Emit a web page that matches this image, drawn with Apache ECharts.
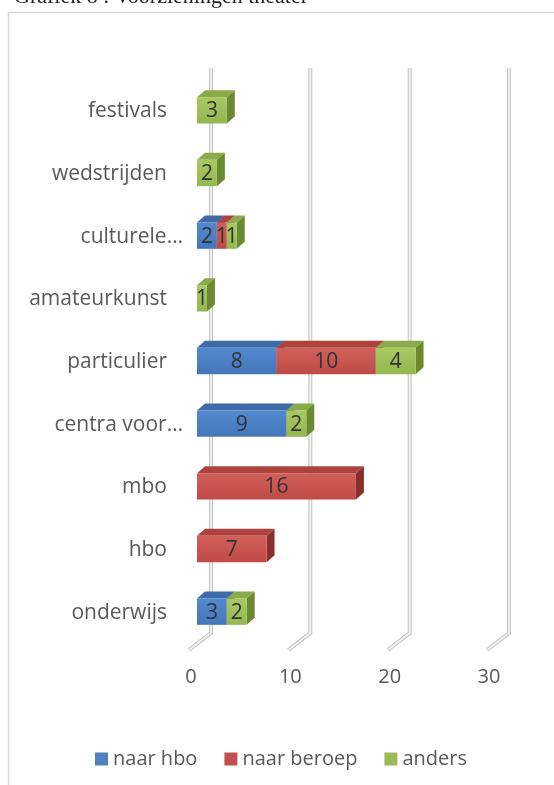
<!DOCTYPE html>
<html>
<head>
<meta charset="utf-8">
<script src="https://cdn.jsdelivr.net/npm/echarts@6/dist/echarts.min.js"></script>
<style>
  html, body { margin: 0; padding: 0; background: #ffffff; }
  #chart { width: 554px; height: 785px; }
</style>
</head>
<body>
<div id="chart"></div>
<script>
// Categories, listed from the bottom row to the top row
const categories = ['onderwijs', 'hbo', 'mbo', 'centra voor…', 'particulier',
                    'amateurkunst', 'culturele…', 'wedstrijden', 'festivals'];
const naarHbo    = [3, 0, 0, 9, 8, 0, 2, 0, 0];
const naarBeroep = [0, 7, 16, 0, 10, 0, 1, 0, 0];
const anders     = [2, 0, 0, 2, 4, 1, 1, 2, 3];
const seriesNames = ['naar hbo', 'naar beroep', 'anders'];
const axisTicks = [0, 10, 20, 30];

const FONT = '"Open Sans", "Noto Sans", sans-serif';
const TEXT = '#595959';

// face colours: front, top, side
const palette = [
  { front: ['#5289cf', '#4576b9'], top: '#3f6aa8', side: '#2e5189', legend: '#4F81BD' },
  { front: ['#d0605b', '#bf4a46'], top: '#b0423e', side: '#8c2f2c', legend: '#C0504D' },
  { front: ['#a8c862', '#94b750'], top: '#8aab49', side: '#6b8a2f', legend: '#9BBB59' }
];

const DX = 8, DY = 7;        // bar depth offset
const WALL_DX = 14, WALL_DY = 11, FLOOR_DX = 8, FLOOR_DY = 6;

// build stacked [value, category, base] rows
const valueSets = [naarHbo, naarBeroep, anders];
const stackRows = valueSets.map(() => []);
categories.forEach((c, i) => {
  let base = 0;
  valueSets.forEach((vals, s) => {
    stackRows[s].push([vals[i], i, base]);
    base += vals[i];
  });
});

function barRenderer(colorSet) {
  return function (params, api) {
    const val = api.value(0);
    if (!val) return;
    const cat = api.value(1);
    const base = api.value(2);
    const p0 = api.coord([base, cat]);
    const p1 = api.coord([base + val, cat]);
    const h = api.size([0, 1])[1] * 0.42;
    const x0 = p0[0], x1 = p1[0];
    const yT = p0[1] - h / 2 - 1, yB = p0[1] + h / 2 - 1;
    return {
      type: 'group',
      children: [
        {
          type: 'polygon',
          shape: { points: [[x0, yT], [x0 + DX, yT - DY], [x1 + DX, yT - DY], [x1, yT]] },
          style: { fill: colorSet.top }
        },
        {
          type: 'polygon',
          shape: { points: [[x1, yT], [x1 + DX, yT - DY], [x1 + DX, yB - DY], [x1, yB]] },
          style: { fill: colorSet.side }
        },
        {
          type: 'rect',
          shape: { x: x0, y: yT, width: x1 - x0, height: yB - yT },
          style: {
            fill: new echarts.graphic.LinearGradient(0, 0, 0, 1, [
              { offset: 0, color: colorSet.front[0] },
              { offset: 1, color: colorSet.front[1] }
            ])
          }
        },
        {
          type: 'text',
          style: {
            x: (x0 + x1) / 2, y: (yT + yB) / 2 + 1,
            text: String(val),
            align: 'center', verticalAlign: 'middle',
            font: '21px ' + FONT, fill: '#333333'
          }
        }
      ]
    };
  };
}

// back wall lines with the floor running forward
function wallRenderer(params, api) {
  const v = api.value(0);
  const cs = params.coordSys;
  const x = api.coord([v, 0])[0];
  const top = cs.y - 12;
  const bottom = cs.y + cs.height;
  const pts = [[x + WALL_DX, top], [x + WALL_DX, bottom - WALL_DY], [x - FLOOR_DX, bottom + FLOOR_DY]];
  return {
    type: 'group',
    children: [
      { type: 'polyline', shape: { points: pts }, style: { stroke: '#c3c3c3', lineWidth: 4, fill: null } },
      { type: 'polyline', shape: { points: pts }, style: { stroke: '#f0f0f0', lineWidth: 2, fill: null } }
    ]
  };
}

const chart = echarts.init(document.getElementById('chart'));

const series = [{
  type: 'custom',
  name: 'walls',
  renderItem: wallRenderer,
  data: axisTicks.map(t => [t]),
  encode: { x: 0 },
  silent: true,
  z: 1
}];
seriesNames.forEach((name, s) => {
  series.push({
    type: 'custom',
    name: name,
    renderItem: barRenderer(palette[s]),
    data: stackRows[s],
    encode: { x: [0, 2], y: 1 },
    itemStyle: { color: palette[s].legend },
    z: 2 + s
  });
});

chart.setOption({
  backgroundColor: '#ffffff',
  animation: false,
  graphic: [
    {
      type: 'rect',
      shape: { x: 8.5, y: 12.5, width: 600, height: 800 },
      style: { fill: null, stroke: '#d9d9d9', lineWidth: 1.5 },
      z: 0
    },
    {
      type: 'text',
      x: 14, y: 8,
      style: {
        text: 'Grafiek 8 : Voorzieningen theater',
        font: '22px "Liberation Serif", serif',
        fill: '#222222',
        verticalAlign: 'bottom'
      }
    }
  ],
  grid: { left: 197, right: 59, top: 80, bottom: 141, containLabel: false },
  xAxis: {
    type: 'value',
    min: 0, max: 30, interval: 10,
    axisLine: { show: false },
    axisTick: { show: false },
    splitLine: { show: false },
    axisLabel: {
      margin: 23,
      padding: [0, 12, 0, 0],
      color: TEXT,
      fontFamily: FONT,
      fontSize: 20
    }
  },
  yAxis: {
    type: 'category',
    data: categories,
    axisLine: { show: false },
    axisTick: { show: false },
    splitLine: { show: false },
    axisLabel: {
      margin: 14,
      formatter: v => v.endsWith('…') ? '{e|' + v + '}' : '{n|' + v + '}',
      rich: {
        n: { color: TEXT, fontFamily: FONT, fontSize: 21, padding: [0, 16, 0, 0] },
        e: { color: TEXT, fontFamily: FONT, fontSize: 21 }
      }
    }
  },
  legend: {
    data: seriesNames,
    left: 90,
    top: 744,
    icon: 'rect',
    itemWidth: 13,
    itemHeight: 13,
    itemGap: 27,
    textStyle: { color: TEXT, fontFamily: FONT, fontSize: 20 }
  },
  series: series
});
</script>
</body>
</html>
